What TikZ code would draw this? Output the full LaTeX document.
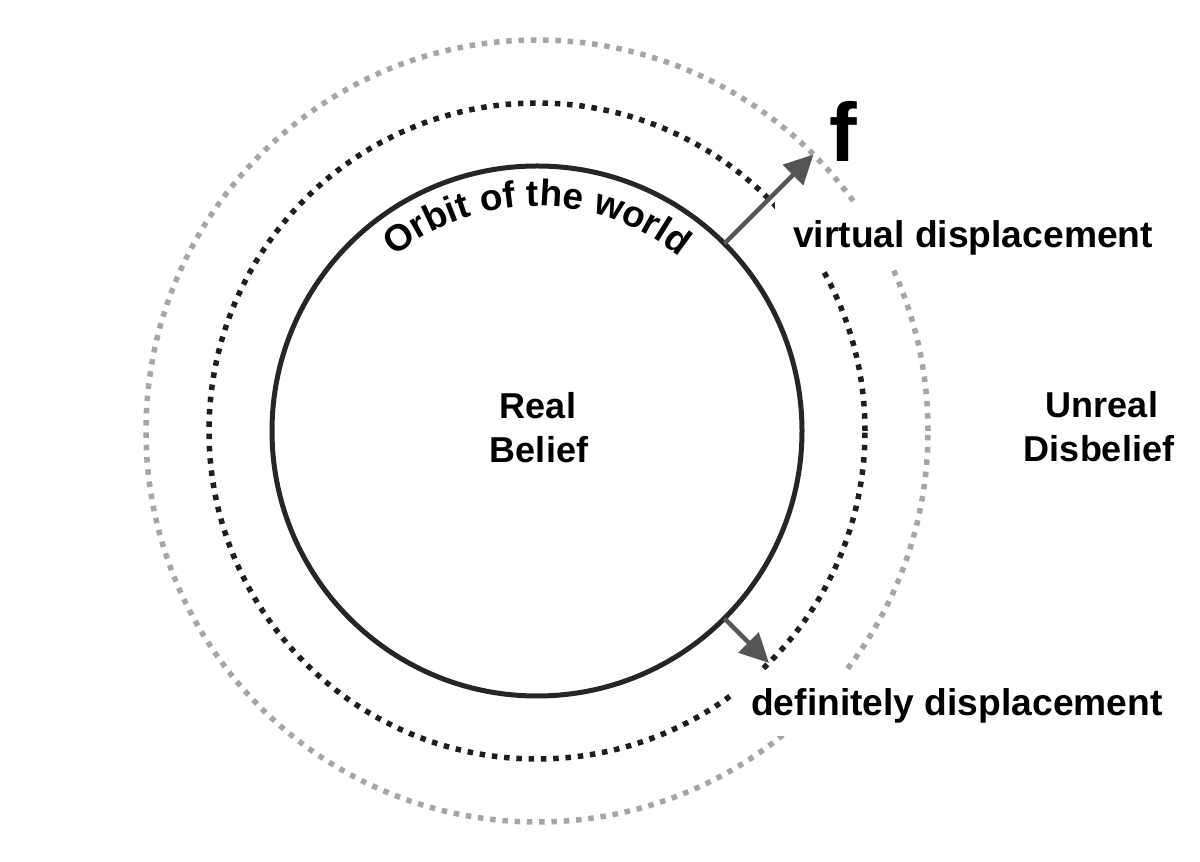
\documentclass[tikz,border=0pt]{standalone}
\usepackage{fontspec}
\setmainfont{Liberation Sans}
\usetikzlibrary{arrows.meta,decorations.text}
\definecolor{innerc}{HTML}{262626}
\definecolor{darkdot}{HTML}{1E1E1E}
\definecolor{graydot}{HTML}{A6A6A6}
\definecolor{arrowc}{HTML}{555555}
\tikzset{
  ring/.style={line width=5pt, draw=innerc},
  dotring/.style={line width=5.5pt, line cap=butt, dash pattern=on 5.5pt off 6.8pt},
  disp/.style={-{Triangle[length=29pt,width=28pt]}, draw=arrowc, fill=arrowc, line width=4.5pt},
  lbl/.style={font=\fontsize{36}{42}\selectfont\bfseries, inner sep=0pt},
  masklbl/.style={font=\fontsize{37.2}{43}\selectfont\bfseries, fill=white, inner xsep=18pt, inner ysep=12pt, text height=34pt, text depth=8pt, anchor=base west},
}
\begin{document}
\begin{tikzpicture}[x=1pt,y=1pt]
\useasboundingbox (0,0) rectangle (1200,862);
\coordinate (C) at (537,431);
% circles
\draw[dotring, draw=graydot] (C) circle[radius=391];
\draw[dotring, draw=darkdot] (C) circle[radius=328];
\draw[ring] (C) circle[radius=265];
% curved label
\path[decorate, decoration={text along path, text align=center,
  text={|\fontsize{37}{42}\selectfont\bfseries|Orbit of the world}}]
  ([shift={(140:225)}]C) arc[start angle=140, end angle=40, radius=225];
% labels with white masks
\node[masklbl] (virt) at (775,614) {virtual displacement};
\node[masklbl] (defi) at (733,146) {definitely displacement};
% arrows
\coordinate (a1s) at ([shift={(45:265)}]C);
\coordinate (a1e) at ([shift={(45:391)}]C);
\coordinate (a2s) at ([shift={(-45:265)}]C);
\coordinate (a2e) at ([shift={(-45:328)}]C);
\draw[disp] (a1s) -- (a1e);
\draw[disp] (a2s) -- (a2e);
\node[font=\fontsize{83}{90}\selectfont\bfseries, inner sep=0pt, anchor=base west] (f) at (829,700) {f};
% center and right labels
\node[lbl, anchor=base] (real) at (538,443) {Real};
\node[lbl, anchor=base] (belief) at (539,399) {Belief};
\node[lbl, anchor=base] (unreal) at (1102,444) {Unreal};
\node[lbl, anchor=base] (disb) at (1099,400) {Disbelief};
\end{tikzpicture}
\end{document}
